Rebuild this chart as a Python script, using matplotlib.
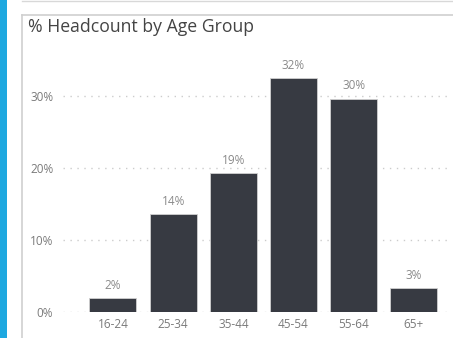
import matplotlib.pyplot as plt
from matplotlib.patches import Rectangle
from matplotlib.lines import Line2D

groups = ['16-24', '25-34', '35-44', '45-54', '55-64', '65+']
share = [1.9, 13.6, 19.3, 32.5, 29.6, 3.3]
labels = ['2%', '14%', '19%', '32%', '30%', '3%']
yticks = [0, 10, 20, 30]

plt.rcParams['font.family'] = ['Open Sans', 'DejaVu Sans']

W, H = 453, 338
fig = plt.figure(figsize=(W / 100, H / 100), dpi=100)

# report frame bits: blue strip, top rule, card border
fig.add_artist(Rectangle((0, 0), 7 / W, 1, transform=fig.transFigure, color='#1ea8e0', lw=0))
fig.add_artist(Line2D([22 / W, 1], [1 - 1 / H, 1 - 1 / H], transform=fig.transFigure, color='#d8d8d8', lw=1))
fig.add_artist(Line2D([22 / W, 1], [1 - 15 / H, 1 - 15 / H], transform=fig.transFigure, color='#cfcfcf', lw=1.2))
fig.add_artist(Line2D([22 / W, 22 / W], [0, 1 - 15 / H], transform=fig.transFigure, color='#cfcfcf', lw=1.2))

fig.text(28 / W, 1 - 27 / H, '% Headcount by Age Group', fontsize=12.7, color='#444444', va='center', ha='left')

ax = fig.add_axes([63 / W, 26 / H, (450 - 63) / W, (312 - 60) / H])
x = range(len(groups))
bars = ax.bar(x, share, width=0.78, color='#373a42', edgecolor='#d0d0d0', linewidth=0.6, zorder=3)
for b, lab in zip(bars, labels):
    ax.text(b.get_x() + b.get_width() / 2, b.get_height() + 0.9, lab, ha='center', va='bottom',
            fontsize=8.5, color='#8a8a8a')

ax.set_xlim(-0.83, 5.6)
ax.set_ylim(0, 35)
ax.set_xticks(list(x))
ax.set_xticklabels(groups)
ax.set_yticks(yticks)
ax.set_yticklabels([f'{v}%' for v in yticks])
ax.tick_params(length=0, labelsize=8.5, colors='#7a7a7a')
ax.tick_params(axis='x', pad=4)
ax.tick_params(axis='y', pad=7)
ax.grid(axis='y', color='#cccccc', linestyle=(0, (1, 4)), linewidth=1, zorder=0)
for s in ax.spines.values():
    s.set_visible(False)
ax.set_facecolor('none')

fig.savefig('out.png', dpi=100)
